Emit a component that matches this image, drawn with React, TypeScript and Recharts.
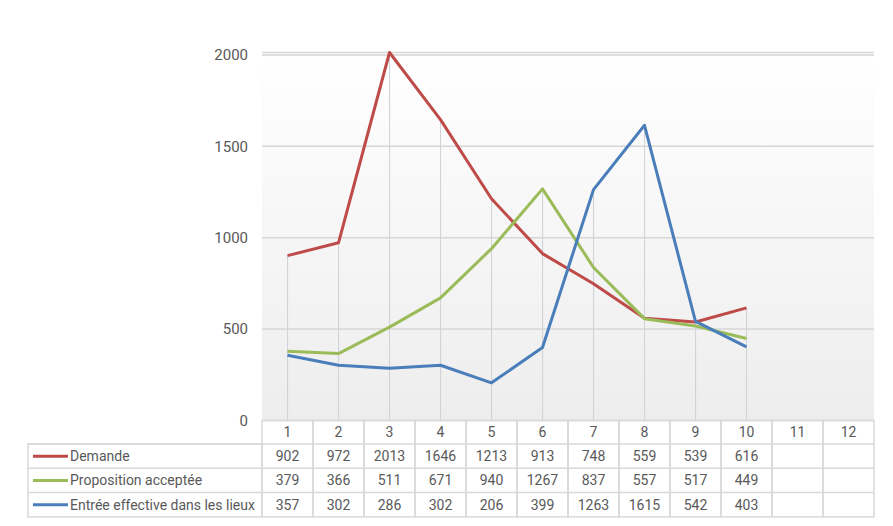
import React from 'react';
import { ComposedChart, Line, Bar, XAxis, YAxis, CartesianGrid } from 'recharts';

const categories = ['1', '2', '3', '4', '5', '6', '7', '8', '9', '10', '11', '12'];
const demande = [902, 972, 2013, 1646, 1213, 913, 748, 559, 539, 616, null, null];
const proposition = [379, 366, 511, 671, 940, 1267, 837, 557, 517, 449, null, null];
const entree = [357, 302, 286, 302, 206, 399, 1263, 1615, 542, 403, null, null];
const yTicks = [0, 500, 1000, 1500, 2000];

const series = [
  { key: 'demande', name: 'Demande', color: '#BE4B48', values: demande },
  { key: 'proposition', name: 'Proposition acceptée', color: '#9BBB59', values: proposition },
  { key: 'entree', name: 'Entrée effective dans les lieux', color: '#4A7EBB', values: entree },
];

const data = categories.map((c, i) => {
  const row: any = { cat: c };
  const vals: number[] = [];
  series.forEach((s) => {
    row[s.key] = s.values[i];
    if (s.values[i] != null) vals.push(s.values[i] as number);
  });
  row.drop = vals.length ? Math.max(...vals) : null;
  return row;
});

const W = 885;
const H = 518;
const M = { top: 44.5, right: 19, left: 194, bottom: 0 };
const Y_W = 60;
const X_H = 105.5;
const PLOT_W = W - M.left - Y_W - M.right;
const COL_W = PLOT_W / categories.length;
const HEAD_H = 23.5;
const ROW_H = 24.3;
const LEG_W = 234;
const BORDER = '#d9d9d9';
const TEXT = '#595959';
const FONT = 'Roboto, "Noto Sans", sans-serif';
const TFS = 14;

const DropLine = (props: any) => {
  const { x, y, width, height } = props;
  if (x == null || height == null || !(height > 0)) return null;
  const cx = x + width / 2;
  return <line x1={cx} x2={cx} y1={y} y2={y + height} stroke="#cdd0d4" strokeWidth={1} />;
};

const TableTick = (props: any) => {
  const { x, y, payload, index } = props;
  const i = index ?? categories.indexOf(String(payload.value));
  const left = x - COL_W / 2;
  const total = HEAD_H + ROW_H * series.length;
  const els: any[] = [];
  els.push(
    <rect key="r" x={left} y={y} width={COL_W} height={total} fill="none" stroke={BORDER} strokeWidth={1.5} />
  );
  els.push(
    <text key="h" x={x} y={y + HEAD_H / 2} textAnchor="middle" dominantBaseline="central" fontSize={TFS} fill={TEXT} fontFamily={FONT}>
      {payload.value}
    </text>
  );
  series.forEach((s, k) => {
    const ry = y + HEAD_H + ROW_H * k;
    els.push(<line key={'l' + k} x1={left} x2={left + COL_W} y1={ry} y2={ry} stroke={BORDER} strokeWidth={1.5} />);
    const v = s.values[i];
    if (v != null) {
      els.push(
        <text key={'t' + k} x={x} y={ry + ROW_H / 2} textAnchor="middle" dominantBaseline="central" fontSize={TFS} fill={TEXT} fontFamily={FONT}>
          {v}
        </text>
      );
    }
  });
  if (i === 0) {
    const lx = left - LEG_W;
    els.push(
      <rect key="lg" x={lx} y={y + HEAD_H} width={LEG_W} height={ROW_H * series.length} fill="none" stroke={BORDER} strokeWidth={1.5} />
    );
    series.forEach((s, k) => {
      const ry = y + HEAD_H + ROW_H * k;
      const cy = ry + ROW_H / 2;
      els.push(<line key={'gl' + k} x1={lx} x2={left} y1={ry} y2={ry} stroke={BORDER} strokeWidth={1.5} />);
      els.push(<line key={'gs' + k} x1={lx + 5} x2={lx + 40} y1={cy} y2={cy} stroke={s.color} strokeWidth={3} />);
      els.push(
        <text key={'gt' + k} x={lx + 42} y={cy} dominantBaseline="central" fontSize={TFS} fill={TEXT} fontFamily={FONT}>
          {s.name}
        </text>
      );
    });
  }
  return <g>{els}</g>;
};

export default function App() {
  return (
    <ComposedChart width={W} height={H} data={data} margin={M}>
      <defs>
        <linearGradient id="plotBg" x1="0" y1="0" x2="0" y2="1">
          <stop offset="0%" stopColor="#ffffff" />
          <stop offset="100%" stopColor="#ededed" />
        </linearGradient>
      </defs>
      <CartesianGrid vertical={false} stroke="#d6d6d6" strokeWidth={1.5} fill="url(#plotBg)" fillOpacity={1} />
      <XAxis
        dataKey="cat"
        scale="band"
        interval={0}
        height={X_H}
        axisLine={false}
        tickLine={false}
        tickSize={0}
        tickMargin={0}
        tick={<TableTick />}
      />
      <YAxis
        width={Y_W}
        domain={[0, 'dataMax']}
        ticks={yTicks}
        axisLine={false}
        tickLine={false}
        tickSize={6}
        tickMargin={8}
        tick={{ fill: TEXT, fontSize: 15, fontFamily: FONT }}
      />
      <Bar dataKey="drop" shape={<DropLine />} isAnimationActive={false} legendType="none" />
      {series.map((s) => (
        <Line
          key={s.key}
          dataKey={s.key}
          name={s.name}
          stroke={s.color}
          strokeWidth={3}
          dot={false}
          activeDot={false}
          strokeLinejoin="round"
          isAnimationActive={false}
        />
      ))}
    </ComposedChart>
  );
}
